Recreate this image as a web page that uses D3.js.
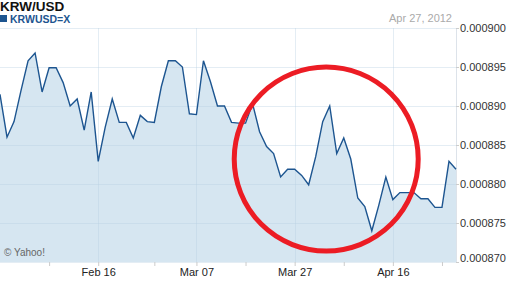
<!DOCTYPE html>
<html>
<head>
<meta charset="utf-8">
<script src="https://cdn.jsdelivr.net/npm/d3@7"></script>
<style>
  body { margin: 0; background: #fff; }
  svg { display: block; font-family: "Liberation Sans", Arial, sans-serif; }
</style>
</head>
<body>
<svg width="507" height="285"></svg>
<script>
// trading days, Jan 27 - Apr 27 2012
const dates = [
  "2012-01-27","2012-01-30","2012-01-31",
  "2012-02-01","2012-02-02","2012-02-03","2012-02-06","2012-02-07","2012-02-08","2012-02-09","2012-02-10",
  "2012-02-13","2012-02-14","2012-02-15","2012-02-16","2012-02-17","2012-02-20","2012-02-21","2012-02-22",
  "2012-02-23","2012-02-24","2012-02-27","2012-02-28","2012-02-29",
  "2012-03-01","2012-03-02","2012-03-05","2012-03-06","2012-03-07","2012-03-08","2012-03-09","2012-03-12",
  "2012-03-13","2012-03-14","2012-03-15","2012-03-16","2012-03-19","2012-03-20","2012-03-21","2012-03-22",
  "2012-03-23","2012-03-26","2012-03-27","2012-03-28","2012-03-29","2012-03-30",
  "2012-04-02","2012-04-03","2012-04-04","2012-04-05","2012-04-06","2012-04-09","2012-04-10","2012-04-11",
  "2012-04-12","2012-04-13","2012-04-16","2012-04-17","2012-04-18","2012-04-19","2012-04-20","2012-04-23",
  "2012-04-24","2012-04-25","2012-04-26","2012-04-27"
];

const rates = [
  0.0008915, 0.0008860, 0.0008880, 0.0008920, 0.0008958, 0.0008968, 0.0008918, 0.0008949,
  0.0008949, 0.0008930, 0.0008900, 0.0008909, 0.0008869, 0.0008918, 0.0008829, 0.0008873,
  0.0008909, 0.0008879, 0.0008879, 0.0008859, 0.0008888, 0.0008880, 0.0008879, 0.0008925,
  0.0008958, 0.0008958, 0.0008950, 0.0008890, 0.0008889, 0.0008958, 0.0008931, 0.0008900,
  0.0008900, 0.0008879, 0.0008878, 0.0008878, 0.0008903, 0.0008867, 0.0008848, 0.0008839,
  0.0008809, 0.0008819, 0.0008819, 0.0008811, 0.0008799, 0.0008835, 0.0008880, 0.0008900,
  0.0008839, 0.0008859, 0.0008832, 0.0008782, 0.0008771, 0.0008740, 0.0008773, 0.0008809,
  0.0008780, 0.0008789, 0.0008789, 0.0008789, 0.0008781, 0.0008781, 0.0008770, 0.0008770,
  0.0008829, 0.0008819
];

const labelDates = ["2012-02-16", "2012-03-07", "2012-03-27", "2012-04-16"];
const labelText = ["Feb 16", "Mar 07", "Mar 27", "Apr 16"];
const minorDates = ["2012-02-07", "2012-02-28", "2012-03-16", "2012-04-05", "2012-04-25"];
const yTicks = [0.000870, 0.000875, 0.000880, 0.000885, 0.000890, 0.000895, 0.000900];

// annotation circle: spans these dates, centred on this rate
const markFrom = "2012-03-30", markTo = "2012-04-04";
const markRate = 0.0008832;

const svg = d3.select('svg');
const mLeft = 0, mTop = 28, plotW = 456, plotH = 234;

const x = d3.scalePoint().domain(dates).range([mLeft, mLeft + plotW]);
const y = d3.scaleLinear().domain([0.000870, 0.000900]).range([mTop + plotH, mTop]);

const data = dates.map((d, i) => ({ d, v: rates[i] }));

//area fill
svg.append('path')
  .datum(data)
  .attr('fill', '#d6e6f1')
  .attr('d', d3.area().x(p => x(p.d)).y0(mTop + plotH).y1(p => y(p.v)));

//grid
const grid = svg.append('g').attr('stroke', '#b8cfe3').attr('stroke-opacity', 0.38).attr('shape-rendering', 'crispEdges');
grid.selectAll('.h').data(yTicks).enter().append('line')
  .attr('x1', mLeft).attr('x2', mLeft + plotW)
  .attr('y1', d => Math.round(y(d)) + 0.5).attr('y2', d => Math.round(y(d)) + 0.5);
grid.selectAll('.v').data(labelDates).enter().append('line')
  .attr('y1', mTop).attr('y2', mTop + plotH)
  .attr('x1', d => Math.round(x(d)) + 0.5).attr('x2', d => Math.round(x(d)) + 0.5);

// right border
svg.append('line')
  .attr('x1', mLeft + plotW + 0.5).attr('x2', mLeft + plotW + 0.5)
  .attr('y1', mTop).attr('y2', mTop + plotH)
  .attr('stroke', '#dde3ea');

//line
svg.append('path')
  .datum(data)
  .attr('fill', 'none')
  .attr('stroke', '#1d5590')
  .attr('stroke-width', 1.4)
  .attr('d', d3.line().x(p => x(p.d)).y(p => y(p.v)));

//x axis
const labelOf = d => labelText[labelDates.indexOf(d)];
const xAxis = svg.append('g')
  .attr('transform', `translate(0,${mTop + plotH})`)
  .call(d3.axisBottom(x).tickValues(labelDates).tickSize(4).tickPadding(2).tickFormat(labelOf));
svg.append('g')
  .attr('transform', `translate(0,${mTop + plotH})`)
  .call(d3.axisBottom(x).tickValues(minorDates).tickSize(4).tickFormat(''))
  .call(g => g.select('.domain').remove())
  .selectAll('line').attr('stroke', '#ccc');
xAxis.select('.domain').remove();
xAxis.selectAll('line').attr('stroke', '#ccc');
xAxis.selectAll('text').attr('font-size', 11).attr('fill', '#222').attr('font-family', '"Liberation Sans", Arial, sans-serif');

//y axis
const yAxis = svg.append('g')
  .attr('transform', `translate(${mLeft + plotW},0)`)
  .call(d3.axisRight(y).tickValues(yTicks).tickSize(3).tickPadding(1).tickFormat(d3.format('.6f')));
yAxis.select('.domain').remove();
yAxis.selectAll('line').attr('stroke', '#ccc');
yAxis.selectAll('text').attr('font-size', 11).attr('fill', '#333').attr('font-family', '"Liberation Sans", Arial, sans-serif')
  .attr('y', d => d === 0.000870 ? -4 : 0);

//titles
svg.append('text').attr('x', 0).attr('y', 10.5)
  .attr('font-size', 13.5).attr('font-weight', 'bold').attr('fill', '#111').text('KRW/USD');
svg.append('rect').attr('x', 0).attr('y', 15).attr('width', 7).attr('height', 7).attr('fill', '#1d5590');
svg.append('text').attr('x', 10).attr('y', 23)
  .attr('font-size', 10.5).attr('font-weight', 'bold').attr('fill', '#1d5590').text('KRWUSD=X');
svg.append('text').attr('x', 452).attr('y', 22).attr('text-anchor', 'end')
  .attr('font-size', 11).attr('fill', '#aaa').text('Apr 27, 2012');
svg.append('text').attr('x', 4).attr('y', 256)
  .attr('font-size', 10).attr('fill', '#666').text('\u00a9 Yahoo!');

//red circle
svg.append('circle')
  .attr('cx', (x(markFrom) + x(markTo)) / 2).attr('cy', y(markRate))
  .attr('r', 92)
  .attr('fill', 'none')
  .attr('stroke', '#ec1c24')
  .attr('stroke-width', 5);
</script>
</body>
</html>
